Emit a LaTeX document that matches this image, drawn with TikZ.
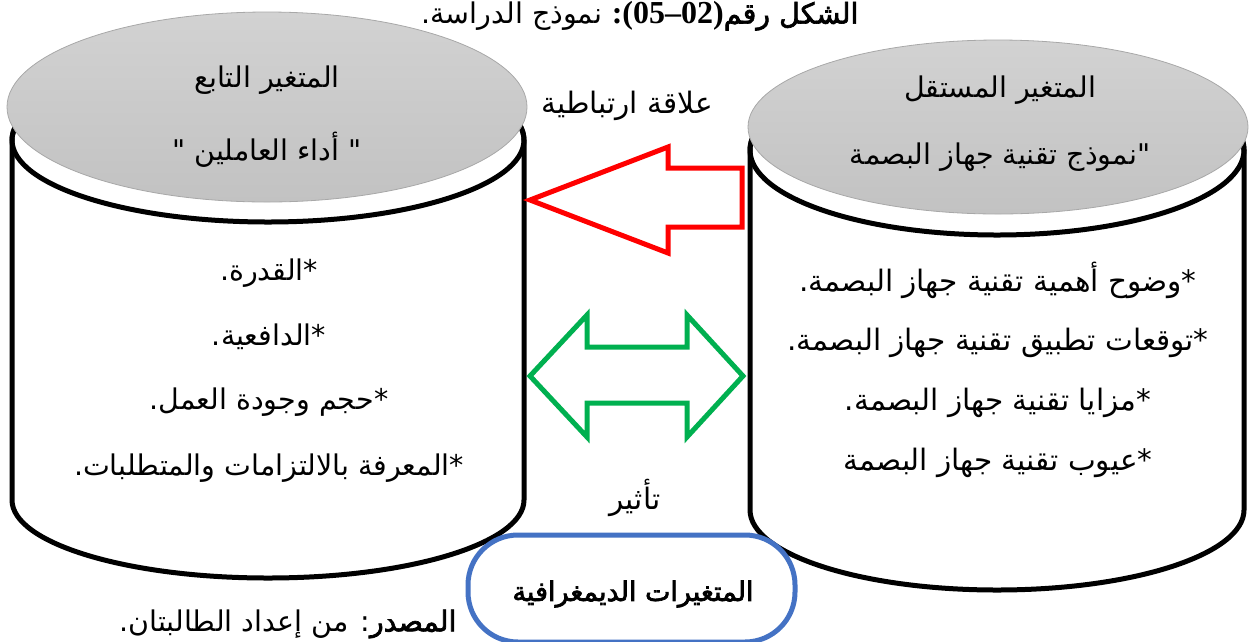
\documentclass[tikz,border=0pt]{standalone}
\usepackage{fontspec}
\setmainfont{Liberation Serif}
\newfontfamily\arabicfont[Script=Arabic]{DejaVu Sans}
\newfontfamily\arabicbold[Script=Arabic,FakeBold=2.5]{DejaVu Sans}
\TeXXeTstate=1
\newcommand{\AR}[1]{{\arabicfont\beginR #1\endR}}
\newcommand{\ARB}[1]{{\arabicbold\beginR #1\endR}}
\definecolor{grn}{HTML}{00B050}
\definecolor{blu}{HTML}{4472C4}
\definecolor{grytop}{HTML}{D2D2D2}
\definecolor{grybot}{HTML}{C2C2C2}
\definecolor{gryedge}{HTML}{A8A8A8}
\tikzset{
  cyl/.style={draw=black, line width=5pt, fill=white},
  lidtop/.style={top color=grytop, bottom color=grybot, draw=gryedge, line width=0.8pt},
  blockarrow/.style={line width=5pt, fill=white, line join=miter},
  txt/.style={inner sep=0pt, font=\fontsize{28.5}{32}\selectfont},
  lbl/.style={inner sep=0pt, font=\fontsize{29.5}{32}\selectfont},
  ttl/.style={inner sep=0pt, font=\fontsize{28.5}{32}\selectfont}
}
\begin{document}
\begin{tikzpicture}[x=1pt,y=-1pt]
\useasboundingbox (0,0) rectangle (1250,641);
% left cylinder
\path[cyl] (12,140) -- (12,500) arc[start angle=180,end angle=0,x radius=256,y radius=78]
  -- (524,140) arc[start angle=0,end angle=-180,x radius=256,y radius=82] -- cycle;
\draw[line width=5pt] (268,140) ellipse[x radius=256,y radius=82];
\shade[lidtop] (267,107) ellipse[x radius=260,y radius=95];
% right cylinder
\path[cyl] (750,150) -- (750,510) arc[start angle=180,end angle=0,x radius=247,y radius=80]
  -- (1244,150) arc[start angle=0,end angle=-180,x radius=247,y radius=85] -- cycle;
\draw[line width=5pt] (997,150) ellipse[x radius=247,y radius=85];
\shade[lidtop] (998,127) ellipse[x radius=250,y radius=87];
% arrows
\draw[blockarrow, draw=red] (530,200) -- (668,147) -- (668,168) -- (742,168) -- (742,227)
  -- (668,227) -- (668,253) -- cycle;
\draw[blockarrow, draw=grn] (530,376) -- (587,315) -- (587,347) -- (687,347) -- (687,315)
  -- (743,376) -- (687,437) -- (687,403) -- (587,403) -- (587,437) -- cycle;
% demographic box
\draw[draw=blu, line width=5pt, rounded corners=50pt, fill=white] (468,535) rectangle (795,642);
\node[inner sep=0pt, font=\fontsize{27}{30}\selectfont] (demo) at (633,594) {\ARB{المتغيرات الديمغرافية}};
% cylinder titles
\node[txt] (lt1) at (267,80) {\AR{المتغير التابع}};
\node[txt] (lt2) at (267,150) {\AR{" أداء العاملين "}};
\node[txt] (rt1) at (1000,90) {\AR{المتغير المستقل}};
\node[txt] (rt2) at (1000,157) {\AR{"نموذج تقنية جهاز البصمة}};
% left list
\node[txt] (l1) at (269,273) {\AR{*القدرة.}};
\node[txt] (l2) at (269,337) {\AR{*الدافعية.}};
\node[txt] (l3) at (269,402) {\AR{*حجم وجودة العمل.}};
\node[txt] (l4) at (269,468) {\AR{*المعرفة بالالتزامات والمتطلبات.}};
% right list
\node[lbl] (r1) at (998,280) {\AR{*وضوح أهمية تقنية جهاز البصمة.}};
\node[lbl] (r2) at (998,343) {\AR{*توقعات تطبيق تقنية جهاز البصمة.}};
\node[lbl] (r3) at (998,403) {\AR{*مزايا تقنية جهاز البصمة.}};
\node[lbl] (r4) at (998,463) {\AR{*عيوب تقنية جهاز البصمة}};
% arrow labels
\node[lbl] (rel) at (627,106) {\AR{علاقة ارتباطية}};
\node[lbl] (eff) at (635,498) {\AR{تأثير}};
% title
\node[ttl] (title) at (640,16) {\AR{نموذج الدراسة.} {\fontsize{32}{32}\selectfont\bfseries :(05–02)}\ARB{الشكل رقم}};
% source
\node[ttl] (src) at (288,624) {{\arabicfont\beginR{\arabicbold المصدر}: من إعداد الطالبتان.\endR}};
\end{tikzpicture}
\end{document}
